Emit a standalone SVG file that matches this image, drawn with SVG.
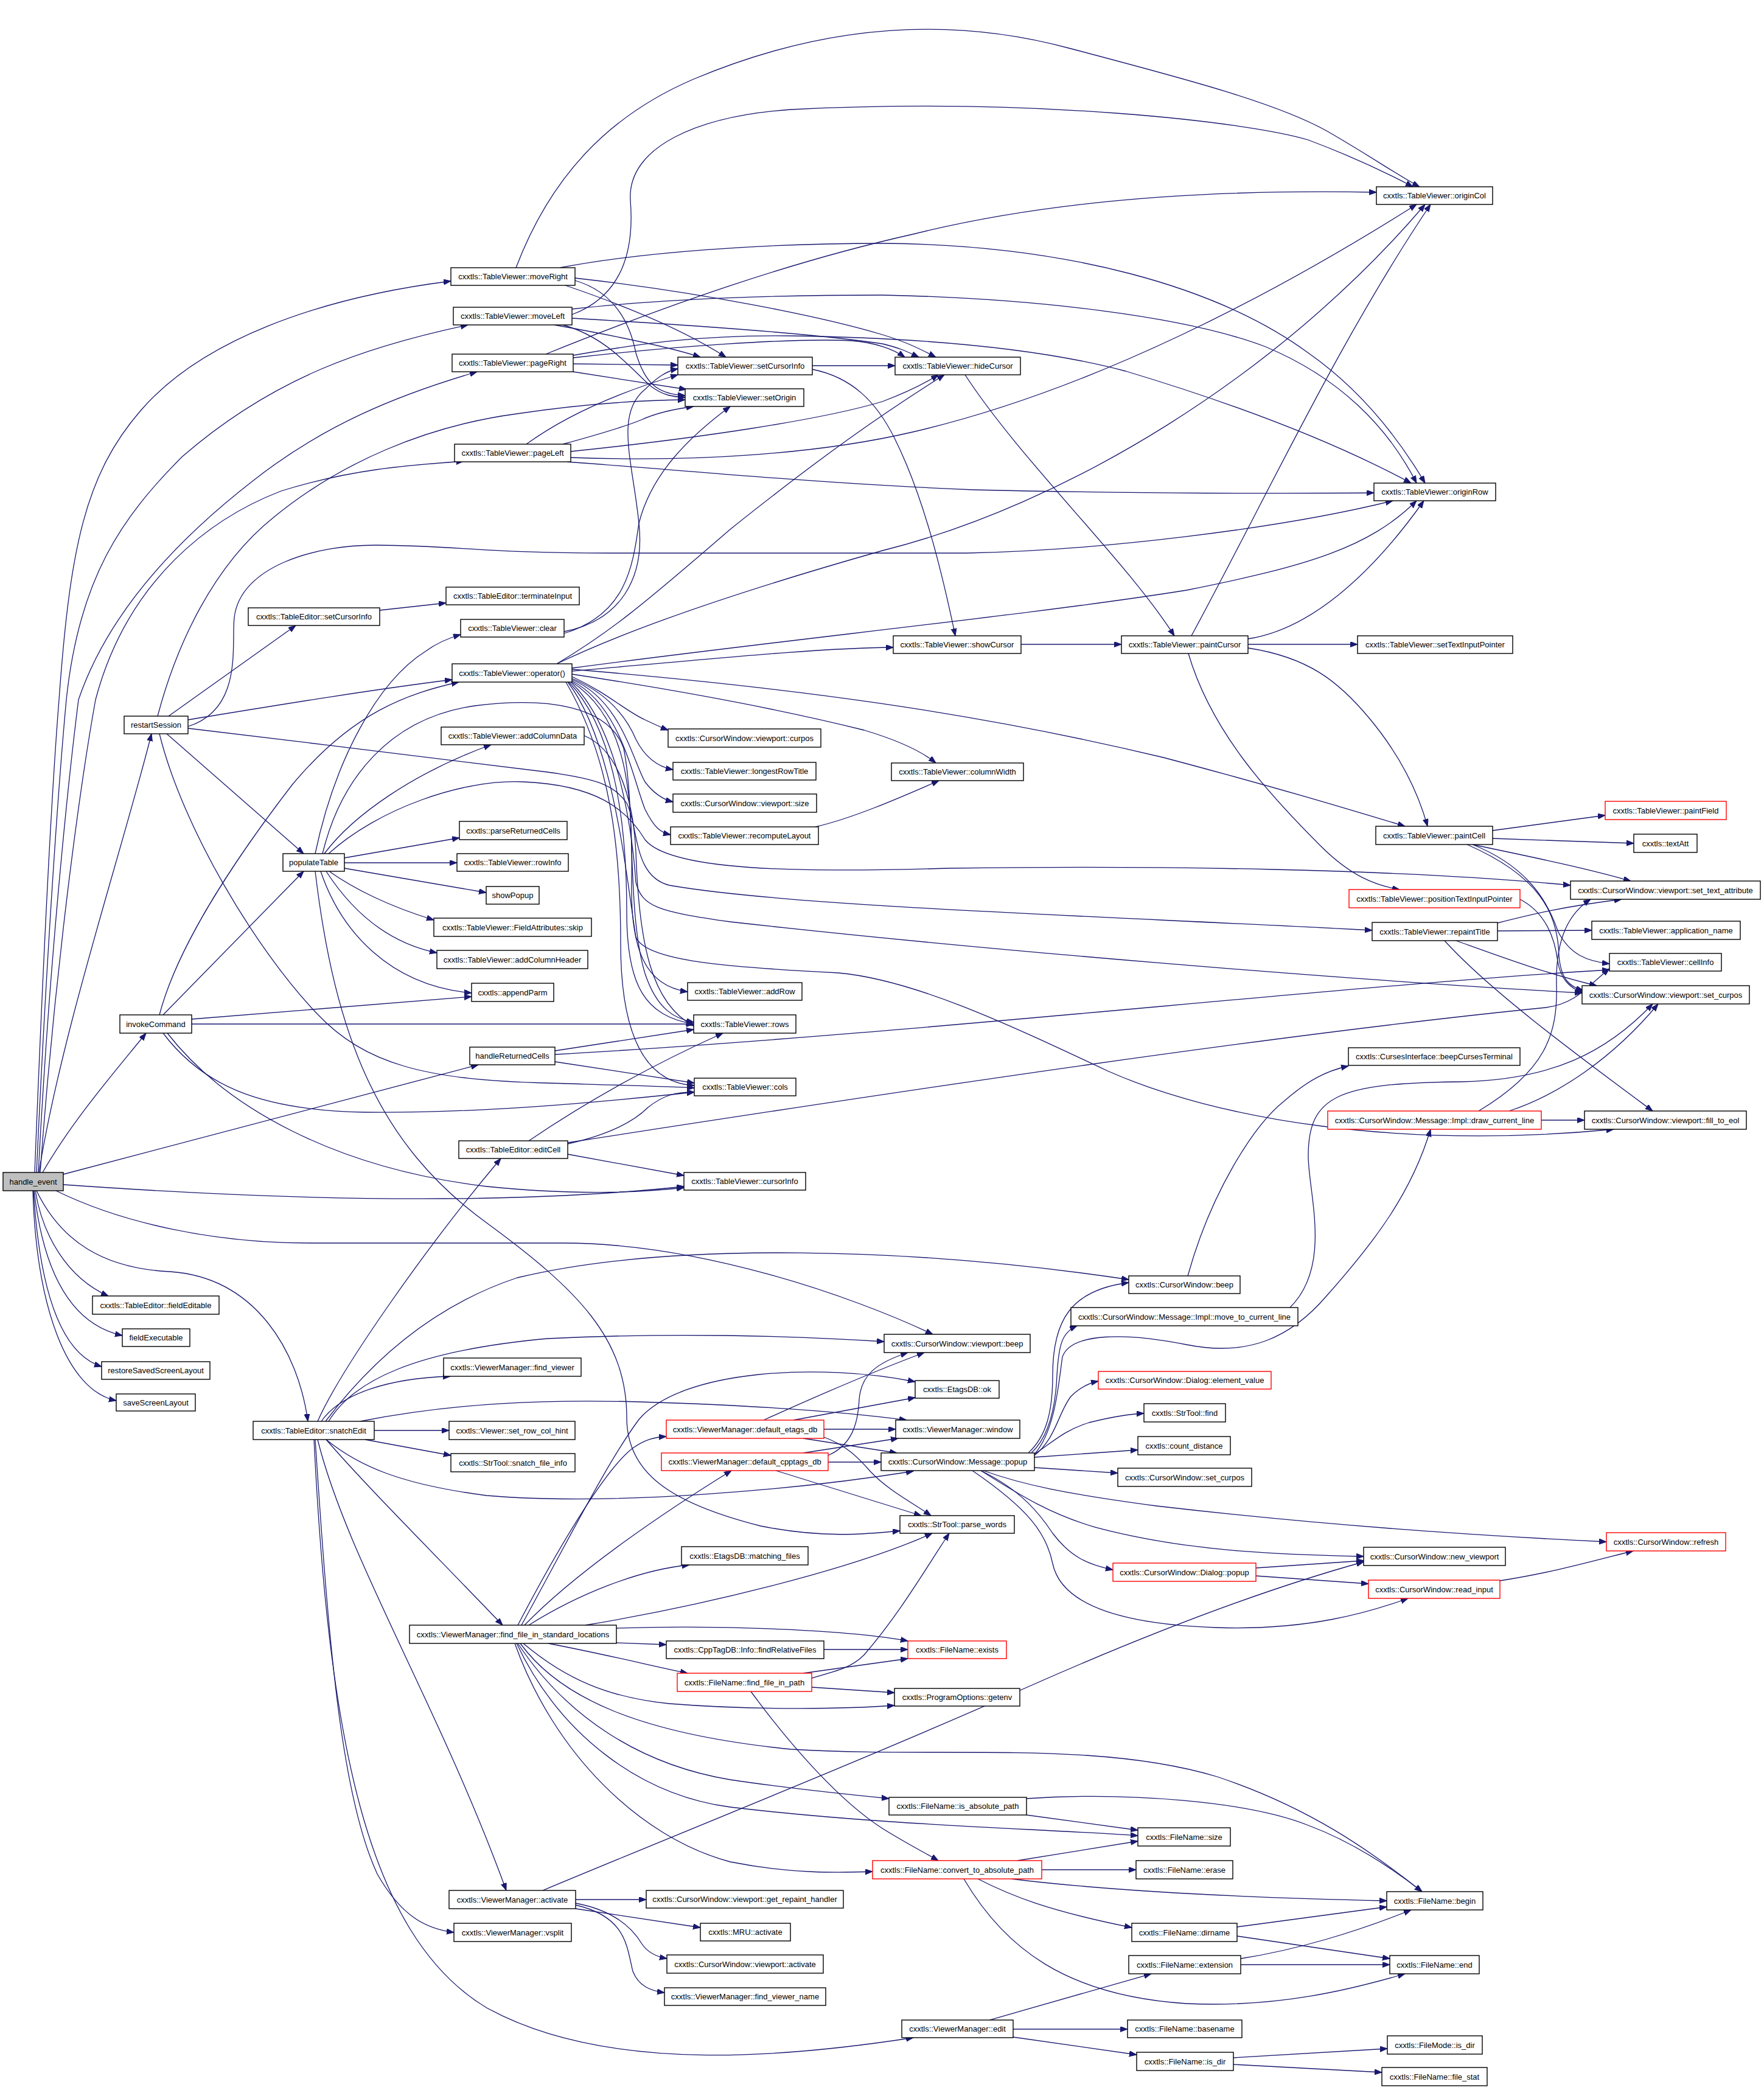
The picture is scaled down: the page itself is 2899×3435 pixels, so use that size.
<svg xmlns="http://www.w3.org/2000/svg" width="2899" height="3435" viewBox="0 0 2899 3435">
<defs>
<marker id="ah" markerWidth="13" markerHeight="10" refX="12" refY="4.5" orient="auto" markerUnits="userSpaceOnUse"><path d="M0,0 L12,4.5 L0,9 z" fill="#191970" stroke="#191970" stroke-width="1"/></marker>
<style>
.node rect{fill:#ffffff;stroke:#000000;stroke-width:1.4}
.node.red rect{stroke:#ff0000}
.node.root rect{fill:#bfbfbf}
.node text{font-family:"Liberation Sans",Arial,sans-serif;font-size:13px;text-anchor:middle;dominant-baseline:central;fill:#000000}
#edges path{fill:none;stroke:#191970;stroke-width:1.3;marker-end:url(#ah)}
</style>
</defs>
<rect x="0" y="0" width="2899" height="3435" fill="#ffffff"/>
<g id="edges">
<path d="M57,1927 C70,1600 85,1300 97,1150 C115,900 140,780 231,675 C330,560 520,490 741,462"/>
<path d="M60,1927 C75,1600 95,1300 109,1150 C130,950 200,850 300,750 C450,620 600,570 769,534"/>
<path d="M63,1927 C80,1600 110,1300 129,1150 C180,1000 300,880 416,790 C530,700 650,650 784,611"/>
<path d="M66,1927 C90,1600 130,1300 157,1150 C210,950 350,850 462,807 C580,770 680,764 762,758"/>
<path d="M64,1927 C100,1700 200,1400 249,1206"/>
<path d="M70,1927 C120,1840 190,1760 240,1698"/>
<path d="M104,1930 L786,1750"/>
<path d="M104,1947 C400,1968 800,1985 1124,1950"/>
<path d="M92,1957 C200,2010 350,2043 508,2043 L925,2043 C1150,2043 1400,2130 1533,2193"/>
<path d="M58,1957 C70,2030 110,2100 178,2130"/>
<path d="M56,1957 C70,2080 110,2175 201,2195"/>
<path d="M55,1957 C65,2120 100,2225 167,2246"/>
<path d="M54,1957 C60,2150 110,2285 191,2302"/>
<path d="M60,1957 C100,2040 170,2085 280,2090 C420,2100 490,2220 506,2336"/>
<path d="M848,440 C905,290 1000,190 1140,130 C1330,50 1540,20 1760,80 C1950,130 2100,170 2180,215 C2250,255 2300,290 2333,307"/>
<path d="M920,440 C1050,415 1250,400 1450,400 C1750,402 2000,470 2150,580 C2250,650 2310,740 2342,794"/>
<path d="M929,469 C1020,500 1120,540 1193,587"/>
<path d="M945,461 C1010,480 1035,530 1045,580 C1060,630 1080,648 1126,650"/>
<path d="M945,457 C1150,480 1350,520 1450,550 C1490,562 1515,575 1538,587"/>
<path d="M940,517 C1040,480 1040,380 1036,330 C1030,240 1150,190 1300,180 C1700,160 2050,200 2150,230 C2230,260 2290,290 2322,307"/>
<path d="M940,508 C1100,490 1300,485 1450,485 C1700,490 1950,520 2080,570 C2200,620 2280,700 2328,794"/>
<path d="M911,534 C1000,550 1100,570 1151,587"/>
<path d="M925,534 C1000,555 1040,610 1070,635 C1090,650 1105,652 1126,653"/>
<path d="M940,523 C1150,535 1350,550 1450,565 C1480,572 1495,580 1510,587"/>
<path d="M897,582 C1100,500 1300,430 1500,385 C1700,335 1950,310 2262,316"/>
<path d="M942,584 C1050,565 1150,550 1300,552 C1500,555 1700,570 1850,610 C2050,670 2200,730 2319,794"/>
<path d="M942,598 L1114,600"/>
<path d="M942,611 L1128,640"/>
<path d="M942,588 C1100,570 1300,555 1400,560 C1440,563 1470,575 1487,587"/>
<path d="M865,730 C920,690 1000,650 1114,616"/>
<path d="M925,730 C980,715 1030,700 1054,690 C1080,678 1110,672 1140,668"/>
<path d="M938,752 C1150,760 1350,745 1500,710 C1800,640 2100,480 2328,336"/>
<path d="M938,742 C1150,720 1350,690 1450,660 C1490,645 1520,630 1542,616"/>
<path d="M932,759 C1150,775 1350,795 1600,805 C1900,812 2100,811 2258,810"/>
<path d="M1335,601 L1471,601"/>
<path d="M1335,607 C1400,620 1440,660 1470,720 C1520,820 1550,950 1570,1045"/>
<path d="M1586,616 C1680,760 1850,920 1930,1045"/>
<path d="M1678,1059 L1843,1059"/>
<path d="M1958,1045 C2080,820 2200,560 2351,336"/>
<path d="M2051,1050 C2150,1035 2250,950 2340,823"/>
<path d="M2051,1059 L2231,1059"/>
<path d="M2051,1065 C2150,1080 2200,1120 2250,1180 C2300,1240 2330,1300 2346,1358"/>
<path d="M1953,1074 C1990,1200 2080,1300 2170,1390 C2220,1440 2260,1455 2300,1462"/>
<path d="M259,1177 C290,1060 350,930 450,850 C560,760 700,700 850,680 C950,665 1050,658 1126,657"/>
<path d="M277,1177 L486,1028"/>
<path d="M309,1183 C450,1160 600,1135 743,1117"/>
<path d="M309,1194 C400,1165 380,1060 385,1015 C395,930 520,895 620,896 C750,897 800,909 1000,909 L1589,909 C1800,905 2100,870 2289,823"/>
<path d="M309,1197 C500,1220 750,1250 900,1269 C980,1280 1010,1290 1030,1320 C1050,1360 1040,1440 1100,1455 C1300,1490 1800,1505 2255,1529"/>
<path d="M262,1206 C300,1360 420,1560 520,1665 C600,1750 700,1775 900,1780 C1000,1783 1080,1785 1141,1788"/>
<path d="M274,1206 L499,1403"/>
<path d="M624,1003 L733,991"/>
<path d="M927,1038 C1020,1020 1060,950 1050,860 C1040,760 1010,680 1060,640 C1080,620 1095,610 1114,606"/>
<path d="M927,1041 C1030,1010 1040,930 1050,860 C1070,780 1130,720 1200,668"/>
<path d="M518,1403 C550,1250 620,1120 700,1070 C720,1055 740,1048 757,1043"/>
<path d="M533,1403 C580,1340 680,1270 807,1224"/>
<path d="M540,1403 C620,1330 760,1280 860,1285 C980,1290 1030,1330 1060,1380 C1100,1430 1300,1435 1560,1427 C1900,1422 2300,1428 2581,1455"/>
<path d="M566,1410 L755,1377"/>
<path d="M566,1418 L751,1418"/>
<path d="M566,1427 L799,1467"/>
<path d="M541,1432 C580,1460 640,1490 713,1512"/>
<path d="M536,1432 C580,1500 640,1550 718,1566"/>
<path d="M527,1432 C560,1530 640,1620 775,1632"/>
<path d="M518,1432 C550,1700 620,1880 800,2010 C950,2120 1030,2200 1030,2330 C1030,2420 1100,2470 1250,2508 C1350,2528 1420,2522 1479,2516"/>
<path d="M530,1403 C560,1280 640,1180 780,1160 C900,1145 1000,1160 1025,1230 C1045,1330 1030,1500 1060,1600 C1080,1660 1110,1675 1140,1680"/>
<path d="M915,1091 C1000,1040 1050,1000 1200,870 C1350,750 1450,680 1552,616"/>
<path d="M915,1091 C1000,1050 1150,990 1450,905 C1750,830 2100,620 2342,336"/>
<path d="M940,1098 C1300,1050 1700,1010 1950,970 C2150,930 2250,900 2328,823"/>
<path d="M940,1103 C1200,1080 1350,1065 1468,1064"/>
<path d="M940,1100 C1300,1130 1600,1170 1912,1245 C2100,1295 2200,1325 2309,1358"/>
<path d="M940,1108 C1150,1140 1300,1170 1420,1200 C1480,1218 1515,1235 1538,1254"/>
<path d="M940,1112 C1000,1140 1030,1170 1060,1183 C1075,1190 1085,1195 1098,1200"/>
<path d="M940,1115 C1000,1140 1030,1180 1045,1215 C1060,1245 1080,1260 1106,1265"/>
<path d="M940,1117 C1020,1150 1040,1250 1060,1285 C1075,1305 1090,1314 1106,1318"/>
<path d="M940,1119 C1020,1160 1040,1280 1060,1330 C1075,1360 1085,1368 1102,1372"/>
<path d="M940,1121 C1030,1180 1040,1300 1038,1450 C1036,1560 1060,1620 1130,1630"/>
<path d="M935,1121 C1010,1200 1030,1350 1030,1500 C1030,1620 1060,1670 1140,1683"/>
<path d="M930,1121 C1005,1250 1020,1400 1020,1550 C1020,1700 1060,1780 1141,1784"/>
<path d="M938,1121 C1020,1200 1040,1380 1045,1450 C1055,1490 1080,1498 1200,1515 C1600,1560 2200,1610 2600,1632"/>
<path d="M933,1121 C1010,1220 1030,1450 1045,1540 C1060,1580 1200,1590 1378,1599 C1500,1610 1650,1680 1820,1760 C2000,1840 2300,1890 2652,1856"/>
<path d="M1340,1359 C1400,1345 1470,1315 1543,1283"/>
<path d="M960,1209 C1010,1230 1040,1300 1045,1400 C1050,1550 1070,1650 1140,1686"/>
<path d="M268,1668 L499,1432"/>
<path d="M262,1668 C290,1560 380,1420 480,1290 C580,1170 670,1140 754,1121"/>
<path d="M315,1675 L775,1638"/>
<path d="M315,1683 L1140,1683"/>
<path d="M268,1698 C330,1780 420,1825 600,1828 C800,1830 1000,1810 1141,1795"/>
<path d="M275,1698 C370,1820 550,1920 800,1950 C950,1965 1050,1960 1124,1952"/>
<path d="M912,1727 L1140,1692"/>
<path d="M912,1745 L1141,1780"/>
<path d="M912,1733 C1500,1700 2200,1620 2645,1594"/>
<path d="M869,1875 C950,1820 1050,1760 1188,1698"/>
<path d="M933,1880 C1000,1865 1040,1845 1065,1820 C1090,1800 1110,1795 1141,1795"/>
<path d="M933,1897 L1124,1932"/>
<path d="M933,1878 C1500,1790 2100,1700 2540,1656 C2590,1650 2610,1620 2645,1592"/>
<path d="M2453,1365 L2638,1340"/>
<path d="M2453,1378 L2685,1386"/>
<path d="M2420,1388 C2500,1405 2600,1425 2680,1448"/>
<path d="M2420,1388 C2500,1420 2540,1470 2560,1530 C2580,1570 2610,1580 2645,1584"/>
<path d="M2411,1388 C2530,1440 2560,1500 2562,1570 C2565,1610 2580,1622 2602,1628"/>
<path d="M2498,1478 C2540,1500 2555,1540 2560,1580 C2565,1610 2580,1624 2602,1632"/>
<path d="M2461,1517 C2520,1502 2570,1490 2665,1478"/>
<path d="M2461,1530 L2616,1529"/>
<path d="M2393,1546 C2460,1570 2540,1600 2624,1620"/>
<path d="M2374,1546 C2450,1630 2600,1740 2716,1826"/>
<path d="M2430,1826 C2540,1760 2560,1700 2558,1620 C2556,1540 2580,1500 2614,1478"/>
<path d="M2480,1826 C2560,1800 2650,1740 2725,1650"/>
<path d="M2533,1841 L2604,1841"/>
<path d="M2120,2149 C2190,2080 2150,1960 2150,1900 C2150,1800 2200,1780 2400,1778 C2550,1775 2640,1730 2716,1650"/>
<path d="M1952,2097 C1990,1960 2060,1850 2110,1810 C2150,1775 2180,1760 2216,1752"/>
<path d="M1690,2388 C1720,2360 1730,2320 1730,2260 C1730,2170 1760,2120 1855,2108"/>
<path d="M1695,2388 C1725,2360 1735,2310 1737,2260 C1740,2210 1745,2190 1770,2179"/>
<path d="M1700,2390 C1735,2350 1740,2270 1746,2230 C1760,2190 1850,2190 1950,2210 C2050,2230 2120,2200 2180,2130 C2260,2040 2320,1960 2351,1856"/>
<path d="M1700,2392 C1735,2365 1740,2320 1760,2295 C1775,2280 1790,2273 1805,2270"/>
<path d="M1700,2390 C1730,2370 1750,2350 1790,2338 C1830,2328 1855,2324 1880,2323"/>
<path d="M1700,2395 L1870,2383"/>
<path d="M1700,2412 L1837,2421"/>
<path d="M1616,2417 C1680,2440 1750,2455 1900,2475 C2200,2510 2450,2525 2640,2534"/>
<path d="M1612,2417 C1680,2460 1730,2490 1800,2510 C1950,2550 2100,2555 2241,2558"/>
<path d="M1612,2417 C1680,2450 1710,2490 1730,2520 C1760,2560 1790,2572 1829,2580"/>
<path d="M1598,2417 C1690,2480 1720,2520 1730,2570 C1745,2640 1850,2670 2000,2675 C2150,2680 2250,2650 2314,2627"/>
<path d="M2064,2577 L2241,2565"/>
<path d="M2064,2590 L2249,2603"/>
<path d="M2465,2598 C2550,2585 2620,2565 2684,2549"/>
<path d="M522,2336 C560,2250 700,2050 823,1904"/>
<path d="M528,2336 C560,2290 640,2265 740,2262"/>
<path d="M535,2336 C600,2250 700,2150 850,2100 C1100,2040 1500,2050 1855,2103"/>
<path d="M540,2336 C580,2270 680,2220 900,2200 C1100,2190 1300,2195 1453,2205"/>
<path d="M592,2336 C750,2305 900,2300 1050,2304 C1250,2310 1400,2322 1490,2334"/>
<path d="M615,2351 L738,2351"/>
<path d="M600,2366 L741,2392"/>
<path d="M536,2366 C590,2410 660,2440 800,2458 C1000,2475 1300,2450 1501,2418"/>
<path d="M536,2366 C600,2440 700,2540 826,2671"/>
<path d="M522,2366 C570,2560 720,2800 832,3107"/>
<path d="M518,2366 C540,2700 560,2950 620,3080 C660,3150 700,3170 746,3176"/>
<path d="M516,2366 C540,2850 600,3180 800,3300 C1000,3410 1300,3380 1501,3349"/>
<path d="M1255,2334 C1330,2300 1420,2260 1519,2223"/>
<path d="M1304,2334 L1504,2297"/>
<path d="M1354,2349 L1472,2349"/>
<path d="M1320,2364 L1474,2388"/>
<path d="M1354,2362 C1390,2375 1410,2395 1430,2418 C1460,2450 1500,2470 1530,2491"/>
<path d="M1361,2392 C1400,2375 1410,2340 1412,2300 C1415,2260 1440,2240 1492,2223"/>
<path d="M1320,2388 L1476,2364"/>
<path d="M1361,2403 L1448,2403"/>
<path d="M1275,2417 L1514,2491"/>
<path d="M851,2671 C930,2520 1000,2410 1040,2380 C1060,2366 1075,2362 1095,2361"/>
<path d="M857,2671 C940,2520 1000,2400 1050,2333 C1120,2250 1350,2240 1504,2271"/>
<path d="M862,2671 C950,2580 1100,2480 1202,2417"/>
<path d="M869,2671 C950,2620 1050,2580 1133,2572"/>
<path d="M962,2671 C1150,2640 1400,2580 1532,2520"/>
<path d="M1013,2676 C1200,2670 1400,2680 1492,2697"/>
<path d="M1013,2700 L1095,2703"/>
<path d="M901,2701 C1000,2720 1080,2740 1130,2750"/>
<path d="M860,2701 C930,2760 1000,2790 1100,2800 C1250,2812 1400,2808 1470,2803"/>
<path d="M855,2701 C920,2790 1050,2850 1300,2875 C1550,2890 1800,2860 2000,2920 C2150,2970 2250,3040 2337,3109"/>
<path d="M851,2701 C930,2820 1050,2900 1200,2925 C1300,2940 1400,2950 1461,2956"/>
<path d="M849,2701 C920,2850 1050,2950 1200,2970 C1450,3000 1700,3005 1870,3017"/>
<path d="M846,2701 C910,2880 1050,3020 1200,3060 C1300,3080 1380,3078 1434,3076"/>
<path d="M1354,2711 L1492,2711"/>
<path d="M1320,2750 L1492,2726"/>
<path d="M1334,2773 L1470,2782"/>
<path d="M1334,2758 C1380,2745 1400,2740 1420,2720 C1480,2650 1520,2580 1560,2520"/>
<path d="M1234,2780 C1300,2870 1380,2960 1450,3005 C1490,3030 1520,3045 1542,3058"/>
<path d="M1687,2983 L1870,3008"/>
<path d="M1687,2956 C1850,2945 2050,2960 2150,3000 C2230,3030 2300,3080 2337,3109"/>
<path d="M1672,3058 L1870,3026"/>
<path d="M1712,3073 L1867,3073"/>
<path d="M1662,3088 C1800,3105 2000,3118 2279,3124"/>
<path d="M1607,3088 C1660,3115 1720,3140 1860,3168"/>
<path d="M1584,3088 C1650,3200 1750,3280 1950,3293 C2100,3300 2220,3270 2309,3244"/>
<path d="M2033,3167 L2279,3134"/>
<path d="M2033,3182 L2284,3219"/>
<path d="M2039,3219 C2130,3205 2230,3175 2319,3139"/>
<path d="M2039,3229 L2284,3229"/>
<path d="M1626,3320 L1892,3244"/>
<path d="M1665,3335 L1853,3335"/>
<path d="M1665,3348 L1868,3377"/>
<path d="M2027,3382 L2280,3367"/>
<path d="M2027,3393 L2271,3406"/>
<path d="M892,3107 C1100,3020 1400,2900 1650,2790 C1850,2700 2050,2620 2241,2567"/>
<path d="M946,3122 L1062,3122"/>
<path d="M946,3137 L1151,3168"/>
<path d="M946,3128 C1010,3140 1040,3170 1055,3195 C1065,3210 1080,3216 1096,3219"/>
<path d="M946,3131 C1030,3150 1030,3200 1040,3240 C1050,3265 1070,3272 1092,3275"/>
</g>
<g id="n_handle_event" class="node root"><rect x="5" y="1927" width="99" height="30"/><text x="54.5" y="1942">handle_event</text></g>
<g id="n_moveRight" class="node"><rect x="741" y="440" width="204" height="29"/><text x="843" y="454.5">cxxtls::TableViewer::moveRight</text></g>
<g id="n_moveLeft" class="node"><rect x="745" y="505" width="195" height="29"/><text x="842.5" y="519.5">cxxtls::TableViewer::moveLeft</text></g>
<g id="n_pageRight" class="node"><rect x="743" y="582" width="199" height="29"/><text x="842.5" y="596.5">cxxtls::TableViewer::pageRight</text></g>
<g id="n_tv_setCursorInfo" class="node"><rect x="1114" y="587" width="221" height="29"/><text x="1224.5" y="601.5">cxxtls::TableViewer::setCursorInfo</text></g>
<g id="n_setOrigin" class="node"><rect x="1126" y="639" width="195" height="29"/><text x="1223.5" y="653.5">cxxtls::TableViewer::setOrigin</text></g>
<g id="n_pageLeft" class="node"><rect x="747" y="730" width="191" height="29"/><text x="842.5" y="744.5">cxxtls::TableViewer::pageLeft</text></g>
<g id="n_terminateInput" class="node"><rect x="733" y="965" width="219" height="29"/><text x="842.5" y="979.5">cxxtls::TableEditor::terminateInput</text></g>
<g id="n_te_setCursorInfo" class="node"><rect x="408" y="999" width="216" height="29"/><text x="516" y="1013.5">cxxtls::TableEditor::setCursorInfo</text></g>
<g id="n_clear" class="node"><rect x="757" y="1018" width="170" height="29"/><text x="842" y="1032.5">cxxtls::TableViewer::clear</text></g>
<g id="n_operator" class="node"><rect x="743" y="1091" width="197" height="30"/><text x="841.5" y="1106">cxxtls::TableViewer::operator()</text></g>
<g id="n_originCol" class="node"><rect x="2262" y="307" width="191" height="29"/><text x="2357.5" y="321.5">cxxtls::TableViewer::originCol</text></g>
<g id="n_hideCursor" class="node"><rect x="1471" y="587" width="206" height="29"/><text x="1574" y="601.5">cxxtls::TableViewer::hideCursor</text></g>
<g id="n_originRow" class="node"><rect x="2258" y="794" width="200" height="29"/><text x="2358" y="808.5">cxxtls::TableViewer::originRow</text></g>
<g id="n_showCursor" class="node"><rect x="1468" y="1045" width="210" height="29"/><text x="1573" y="1059.5">cxxtls::TableViewer::showCursor</text></g>
<g id="n_paintCursor" class="node"><rect x="1843" y="1045" width="208" height="29"/><text x="1947" y="1059.5">cxxtls::TableViewer::paintCursor</text></g>
<g id="n_setTextInputPointer" class="node"><rect x="2231" y="1045" width="255" height="29"/><text x="2358.5" y="1059.5">cxxtls::TableViewer::setTextInputPointer</text></g>
<g id="n_restartSession" class="node"><rect x="204" y="1177" width="105" height="29"/><text x="256.5" y="1191.5">restartSession</text></g>
<g id="n_addColumnData" class="node"><rect x="725" y="1195" width="235" height="29"/><text x="842.5" y="1209.5">cxxtls::TableViewer::addColumnData</text></g>
<g id="n_vp_curpos" class="node"><rect x="1098" y="1198" width="251" height="30"/><text x="1223.5" y="1213">cxxtls::CursorWindow::viewport::curpos</text></g>
<g id="n_longestRowTitle" class="node"><rect x="1106" y="1253" width="235" height="29"/><text x="1223.5" y="1267.5">cxxtls::TableViewer::longestRowTitle</text></g>
<g id="n_vp_size" class="node"><rect x="1106" y="1305" width="236" height="30"/><text x="1224" y="1320">cxxtls::CursorWindow::viewport::size</text></g>
<g id="n_recomputeLayout" class="node"><rect x="1102" y="1359" width="243" height="29"/><text x="1223.5" y="1373.5">cxxtls::TableViewer::recomputeLayout</text></g>
<g id="n_parseReturnedCells" class="node"><rect x="755" y="1350" width="177" height="30"/><text x="843.5" y="1365">cxxtls::parseReturnedCells</text></g>
<g id="n_populateTable" class="node"><rect x="465" y="1403" width="101" height="29"/><text x="515.5" y="1417.5">populateTable</text></g>
<g id="n_rowInfo" class="node"><rect x="751" y="1403" width="183" height="29"/><text x="842.5" y="1417.5">cxxtls::TableViewer::rowInfo</text></g>
<g id="n_showPopup" class="node"><rect x="799" y="1457" width="87" height="29"/><text x="842.5" y="1471.5">showPopup</text></g>
<g id="n_skip" class="node"><rect x="713" y="1509" width="259" height="30"/><text x="842.5" y="1524">cxxtls::TableViewer::FieldAttributes::skip</text></g>
<g id="n_addColumnHeader" class="node"><rect x="718" y="1562" width="248" height="30"/><text x="842" y="1577">cxxtls::TableViewer::addColumnHeader</text></g>
<g id="n_appendParm" class="node"><rect x="775" y="1616" width="135" height="30"/><text x="842.5" y="1631">cxxtls::appendParm</text></g>
<g id="n_addRow" class="node"><rect x="1130" y="1615" width="188" height="29"/><text x="1224" y="1629.5">cxxtls::TableViewer::addRow</text></g>
<g id="n_invokeCommand" class="node"><rect x="197" y="1668" width="118" height="30"/><text x="256" y="1683">invokeCommand</text></g>
<g id="n_rows" class="node"><rect x="1140" y="1668" width="168" height="30"/><text x="1224" y="1683">cxxtls::TableViewer::rows</text></g>
<g id="n_handleReturnedCells" class="node"><rect x="772" y="1721" width="140" height="29"/><text x="842" y="1735.5">handleReturnedCells</text></g>
<g id="n_cols" class="node"><rect x="1141" y="1772" width="167" height="29"/><text x="1224.5" y="1786.5">cxxtls::TableViewer::cols</text></g>
<g id="n_editCell" class="node"><rect x="754" y="1875" width="179" height="29"/><text x="843.5" y="1889.5">cxxtls::TableEditor::editCell</text></g>
<g id="n_cursorInfo" class="node"><rect x="1124" y="1927" width="200" height="29"/><text x="1224" y="1941.5">cxxtls::TableViewer::cursorInfo</text></g>
<g id="n_fieldEditable" class="node"><rect x="152" y="2130" width="208" height="30"/><text x="256" y="2145">cxxtls::TableEditor::fieldEditable</text></g>
<g id="n_fieldExecutable" class="node"><rect x="201" y="2184" width="111" height="29"/><text x="256.5" y="2198.5">fieldExecutable</text></g>
<g id="n_restoreSavedScreenLayout" class="node"><rect x="167" y="2238" width="178" height="29"/><text x="256" y="2252.5">restoreSavedScreenLayout</text></g>
<g id="n_saveScreenLayout" class="node"><rect x="191" y="2291" width="130" height="28"/><text x="256" y="2305">saveScreenLayout</text></g>
<g id="n_find_viewer" class="node"><rect x="729" y="2232" width="226" height="30"/><text x="842" y="2247">cxxtls::ViewerManager::find_viewer</text></g>
<g id="n_columnWidth" class="node"><rect x="1465" y="1254" width="217" height="29"/><text x="1573.5" y="1268.5">cxxtls::TableViewer::columnWidth</text></g>
<g id="n_paintField" class="node red"><rect x="2638" y="1317" width="199" height="30"/><text x="2737.5" y="1332">cxxtls::TableViewer::paintField</text></g>
<g id="n_paintCell" class="node"><rect x="2261" y="1358" width="192" height="30"/><text x="2357" y="1373">cxxtls::TableViewer::paintCell</text></g>
<g id="n_textAtt" class="node"><rect x="2685" y="1371" width="104" height="30"/><text x="2737" y="1386">cxxtls::textAtt</text></g>
<g id="n_set_text_attribute" class="node"><rect x="2581" y="1448" width="312" height="30"/><text x="2737" y="1463">cxxtls::CursorWindow::viewport::set_text_attribute</text></g>
<g id="n_positionTextInputPointer" class="node red"><rect x="2217" y="1462" width="281" height="30"/><text x="2357.5" y="1477">cxxtls::TableViewer::positionTextInputPointer</text></g>
<g id="n_repaintTitle" class="node"><rect x="2255" y="1516" width="206" height="30"/><text x="2358" y="1531">cxxtls::TableViewer::repaintTitle</text></g>
<g id="n_application_name" class="node"><rect x="2616" y="1514" width="244" height="30"/><text x="2738" y="1529">cxxtls::TableViewer::application_name</text></g>
<g id="n_cellInfo" class="node"><rect x="2645" y="1567" width="184" height="29"/><text x="2737" y="1581.5">cxxtls::TableViewer::cellInfo</text></g>
<g id="n_vp_set_curpos" class="node"><rect x="2600" y="1620" width="275" height="30"/><text x="2737.5" y="1635">cxxtls::CursorWindow::viewport::set_curpos</text></g>
<g id="n_beepCursesTerminal" class="node"><rect x="2216" y="1722" width="282" height="29"/><text x="2357" y="1736.5">cxxtls::CursesInterface::beepCursesTerminal</text></g>
<g id="n_draw_current_line" class="node red"><rect x="2182" y="1826" width="351" height="30"/><text x="2357.5" y="1841">cxxtls::CursorWindow::Message::Impl::draw_current_line</text></g>
<g id="n_fill_to_eol" class="node"><rect x="2604" y="1826" width="266" height="30"/><text x="2737" y="1841">cxxtls::CursorWindow::viewport::fill_to_eol</text></g>
<g id="n_cw_beep" class="node"><rect x="1855" y="2097" width="183" height="29"/><text x="1946.5" y="2111.5">cxxtls::CursorWindow::beep</text></g>
<g id="n_move_to_current_line" class="node"><rect x="1760" y="2149" width="373" height="30"/><text x="1946.5" y="2164">cxxtls::CursorWindow::Message::Impl::move_to_current_line</text></g>
<g id="n_vp_beep" class="node"><rect x="1453" y="2193" width="240" height="30"/><text x="1573" y="2208">cxxtls::CursorWindow::viewport::beep</text></g>
<g id="n_element_value" class="node red"><rect x="1805" y="2254" width="284" height="29"/><text x="1947" y="2268.5">cxxtls::CursorWindow::Dialog::element_value</text></g>
<g id="n_etags_ok" class="node"><rect x="1504" y="2269" width="138" height="29"/><text x="1573" y="2283.5">cxxtls::EtagsDB::ok</text></g>
<g id="n_snatchEdit" class="node"><rect x="416" y="2336" width="199" height="30"/><text x="515.5" y="2351">cxxtls::TableEditor::snatchEdit</text></g>
<g id="n_set_row_col_hint" class="node"><rect x="738" y="2336" width="207" height="30"/><text x="841.5" y="2351">cxxtls::Viewer::set_row_col_hint</text></g>
<g id="n_snatch_file_info" class="node"><rect x="741" y="2389" width="204" height="30"/><text x="843" y="2404">cxxtls::StrTool::snatch_file_info</text></g>
<g id="n_default_etags_db" class="node red"><rect x="1095" y="2334" width="259" height="30"/><text x="1224.5" y="2349">cxxtls::ViewerManager::default_etags_db</text></g>
<g id="n_default_cpptags_db" class="node red"><rect x="1087" y="2388" width="274" height="29"/><text x="1224" y="2402.5">cxxtls::ViewerManager::default_cpptags_db</text></g>
<g id="n_window" class="node"><rect x="1472" y="2334" width="204" height="30"/><text x="1574" y="2349">cxxtls::ViewerManager::window</text></g>
<g id="n_strtool_find" class="node"><rect x="1880" y="2307" width="134" height="30"/><text x="1947" y="2322">cxxtls::StrTool::find</text></g>
<g id="n_count_distance" class="node"><rect x="1870" y="2361" width="152" height="30"/><text x="1946" y="2376">cxxtls::count_distance</text></g>
<g id="n_message_popup" class="node"><rect x="1448" y="2388" width="252" height="29"/><text x="1574" y="2402.5">cxxtls::CursorWindow::Message::popup</text></g>
<g id="n_cw_set_curpos" class="node"><rect x="1837" y="2413" width="220" height="30"/><text x="1947" y="2428">cxxtls::CursorWindow::set_curpos</text></g>
<g id="n_parse_words" class="node"><rect x="1479" y="2491" width="188" height="29"/><text x="1573" y="2505.5">cxxtls::StrTool::parse_words</text></g>
<g id="n_refresh" class="node red"><rect x="2640" y="2519" width="196" height="30"/><text x="2738" y="2534">cxxtls::CursorWindow::refresh</text></g>
<g id="n_new_viewport" class="node"><rect x="2241" y="2543" width="233" height="30"/><text x="2357.5" y="2558">cxxtls::CursorWindow::new_viewport</text></g>
<g id="n_dialog_popup" class="node red"><rect x="1829" y="2569" width="235" height="30"/><text x="1946.5" y="2584">cxxtls::CursorWindow::Dialog::popup</text></g>
<g id="n_read_input" class="node red"><rect x="2249" y="2597" width="216" height="30"/><text x="2357" y="2612">cxxtls::CursorWindow::read_input</text></g>
<g id="n_matching_files" class="node"><rect x="1120" y="2542" width="208" height="30"/><text x="1224" y="2557">cxxtls::EtagsDB::matching_files</text></g>
<g id="n_find_file_std" class="node"><rect x="673" y="2671" width="340" height="30"/><text x="843" y="2686">cxxtls::ViewerManager::find_file_in_standard_locations</text></g>
<g id="n_findRelativeFiles" class="node"><rect x="1095" y="2697" width="259" height="29"/><text x="1224.5" y="2711.5">cxxtls::CppTagDB::Info::findRelativeFiles</text></g>
<g id="n_exists" class="node red"><rect x="1492" y="2697" width="162" height="29"/><text x="1573" y="2711.5">cxxtls::FileName::exists</text></g>
<g id="n_find_file_in_path" class="node red"><rect x="1113" y="2750" width="221" height="30"/><text x="1223.5" y="2765">cxxtls::FileName::find_file_in_path</text></g>
<g id="n_getenv" class="node"><rect x="1470" y="2775" width="206" height="29"/><text x="1573" y="2789.5">cxxtls::ProgramOptions::getenv</text></g>
<g id="n_is_absolute_path" class="node"><rect x="1461" y="2954" width="226" height="29"/><text x="1574" y="2968.5">cxxtls::FileName::is_absolute_path</text></g>
<g id="n_fn_size" class="node"><rect x="1870" y="3004" width="152" height="30"/><text x="1946" y="3019">cxxtls::FileName::size</text></g>
<g id="n_convert" class="node red"><rect x="1434" y="3058" width="278" height="30"/><text x="1573" y="3073">cxxtls::FileName::convert_to_absolute_path</text></g>
<g id="n_erase" class="node"><rect x="1867" y="3058" width="159" height="30"/><text x="1946.5" y="3073">cxxtls::FileName::erase</text></g>
<g id="n_begin" class="node"><rect x="2279" y="3109" width="158" height="30"/><text x="2358" y="3124">cxxtls::FileName::begin</text></g>
<g id="n_dirname" class="node"><rect x="1860" y="3161" width="173" height="30"/><text x="1946.5" y="3176">cxxtls::FileName::dirname</text></g>
<g id="n_extension" class="node"><rect x="1855" y="3214" width="184" height="30"/><text x="1947" y="3229">cxxtls::FileName::extension</text></g>
<g id="n_end" class="node"><rect x="2284" y="3214" width="147" height="30"/><text x="2357.5" y="3229">cxxtls::FileName::end</text></g>
<g id="n_vm_activate" class="node"><rect x="738" y="3107" width="208" height="30"/><text x="842" y="3122">cxxtls::ViewerManager::activate</text></g>
<g id="n_get_repaint_handler" class="node"><rect x="1062" y="3107" width="324" height="29"/><text x="1224" y="3121.5">cxxtls::CursorWindow::viewport::get_repaint_handler</text></g>
<g id="n_mru_activate" class="node"><rect x="1151" y="3161" width="148" height="29"/><text x="1225" y="3175.5">cxxtls::MRU::activate</text></g>
<g id="n_vsplit" class="node"><rect x="746" y="3161" width="193" height="30"/><text x="842.5" y="3176">cxxtls::ViewerManager::vsplit</text></g>
<g id="n_vp_activate" class="node"><rect x="1096" y="3213" width="257" height="30"/><text x="1224.5" y="3228">cxxtls::CursorWindow::viewport::activate</text></g>
<g id="n_find_viewer_name" class="node"><rect x="1092" y="3267" width="265" height="29"/><text x="1224.5" y="3281.5">cxxtls::ViewerManager::find_viewer_name</text></g>
<g id="n_vm_edit" class="node"><rect x="1482" y="3320" width="183" height="29"/><text x="1573.5" y="3334.5">cxxtls::ViewerManager::edit</text></g>
<g id="n_basename" class="node"><rect x="1853" y="3320" width="188" height="29"/><text x="1947" y="3334.5">cxxtls::FileName::basename</text></g>
<g id="n_filemode_is_dir" class="node"><rect x="2280" y="3346" width="156" height="30"/><text x="2358" y="3361">cxxtls::FileMode::is_dir</text></g>
<g id="n_filename_is_dir" class="node"><rect x="1868" y="3373" width="159" height="30"/><text x="1947.5" y="3388">cxxtls::FileName::is_dir</text></g>
<g id="n_file_stat" class="node"><rect x="2271" y="3398" width="173" height="30"/><text x="2357.5" y="3413">cxxtls::FileName::file_stat</text></g>
</svg>
